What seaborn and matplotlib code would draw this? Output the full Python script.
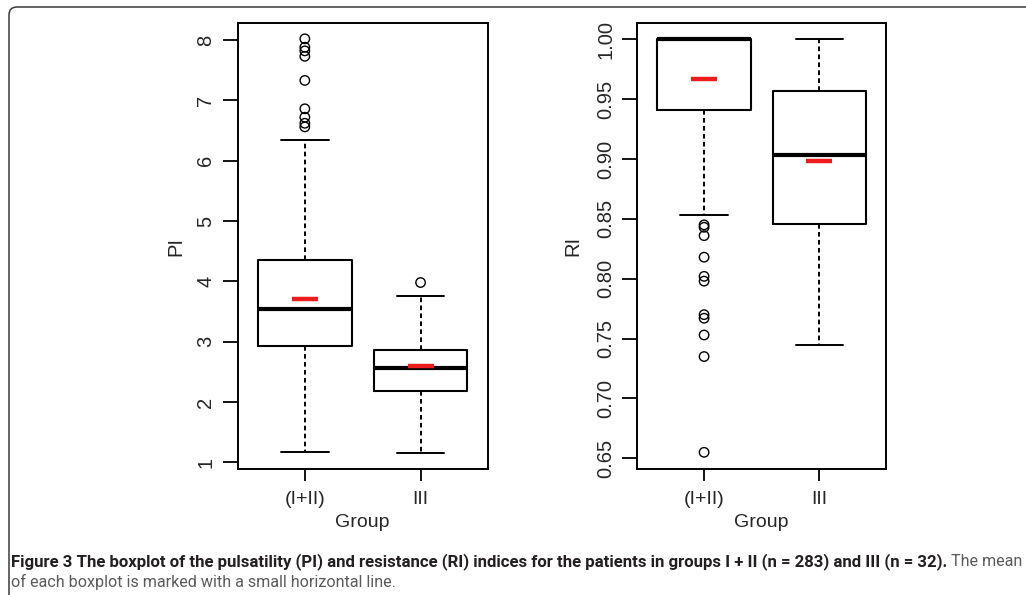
import matplotlib
matplotlib.use("Agg")
import matplotlib.pyplot as plt
from matplotlib.patches import FancyBboxPatch
from matplotlib import font_manager
import seaborn as sns
import pandas as pd

# ---- data -------------------------------------------------------------
groups = ["(I+II)", "III"]

# Pulsatility index (PI): five-number summaries, means and outliers
pi_whislo = [1.17, 1.16]
pi_q1 = [2.93, 2.18]
pi_med = [3.54, 2.57]
pi_q3 = [4.35, 2.86]
pi_whishi = [6.34, 3.76]
pi_mean = [3.70, 2.59]
pi_outliers = [[6.56, 6.62, 6.72, 6.86, 7.33, 7.73, 7.82, 7.88, 8.02], [3.98]]
pi_ticks = [1, 2, 3, 4, 5, 6, 7, 8]

# Resistance index (RI)
ri_whislo = [0.853, 0.745]
ri_q1 = [0.941, 0.846]
ri_med = [1.000, 0.903]
ri_q3 = [1.000, 0.957]
ri_whishi = [1.000, 1.000]
ri_mean = [0.967, 0.898]
ri_outliers = [[0.655, 0.735, 0.753, 0.767, 0.770, 0.798, 0.802, 0.818,
                0.836, 0.843, 0.845], []]
ri_ticks = [0.65, 0.70, 0.75, 0.80, 0.85, 0.90, 0.95, 1.00]

caption_bold = ("Figure 3 The boxplot of the pulsatility (PI) and resistance (RI) "
                "indices for the patients in groups I + II (n = 283) and III (n = 32).")
caption_rest1 = " The mean"
caption_line2 = "of each boxplot is marked with a small horizontal line."

# ---- style ------------------------------------------------------------
sns.set_theme(style="white")
plt.rcParams["font.family"] = ["Liberation Sans", "DejaVu Sans"]

available = {f.name for f in font_manager.fontManager.ttflist}
cap_family = "Liberation Sans Narrow" if "Liberation Sans Narrow" in available else "Roboto"

W, H = 1026, 595
fig = plt.figure(figsize=(W / 100, H / 100), dpi=100)


def panel(rect, whislo, q1, med, q3, whishi, means, outliers, ylabel, ylim,
          ticks, ticklabels, ylabelpad):
    ax = fig.add_axes(rect)
    stats = [dict(whislo=whislo[i], q1=q1[i], med=med[i], q3=q3[i],
                  whishi=whishi[i], fliers=[], label=groups[i])
             for i in range(len(groups))]
    ax.bxp(stats, positions=[0, 1], widths=0.81, capwidths=0.41,
           showfliers=False,
           boxprops=dict(color="black", lw=1.5),
           medianprops=dict(color="black", lw=3.0, solid_capstyle="butt"),
           whiskerprops=dict(color="black", lw=1.4, linestyle=(0, (2.4, 1.7))),
           capprops=dict(color="black", lw=1.4))

    # outlying observations as open circles
    out_df = pd.DataFrame({
        "group": [g for g, vals in zip(groups, outliers) for _ in vals],
        "value": [v for vals in outliers for v in vals],
    })
    n_before = len(ax.collections)
    sns.stripplot(data=out_df, x="group", y="value", order=groups, jitter=False,
                  marker="o", size=6.8, color="black", linewidth=1.0,
                  edgecolor="black", ax=ax, zorder=3)
    for coll in ax.collections[n_before:]:
        coll.set_facecolor("none")
        coll.set_edgecolor("black")
        coll.set_linewidth(1.0)

    # group means as short red bars
    sns.pointplot(x=groups, y=means, order=groups, color="#ee1c1c",
                  markers="_", linestyles="none", errorbar=None,
                  markersize=19, markeredgewidth=3.2, ax=ax, zorder=4)

    ax.set_xlim(-0.58, 1.58)
    ax.set_ylim(*ylim)
    ax.set_xticks([0, 1])
    ax.set_xticklabels(groups, fontsize=14)
    ax.set_yticks(ticks)
    ax.set_yticklabels(ticklabels, rotation=90, va="center", fontsize=14.5)
    ax.tick_params(axis="y", direction="out", length=10.5, width=1.3,
                   pad=5.5, color="black", left=True)
    ax.tick_params(axis="x", direction="out", length=8.4, width=1.3,
                   pad=7.5, color="black", bottom=True)
    for sp in ax.spines.values():
        sp.set_visible(True)
        sp.set_color("black")
        sp.set_linewidth(1.4)
    ax.set_xlabel("Group", fontsize=14, labelpad=4)
    ax.set_ylabel(ylabel, fontsize=14.5, labelpad=ylabelpad)
    ax.grid(False)
    return ax


panel([237.7 / W, 1 - 469.3 / H, 250 / W, 446.6 / H],
      pi_whislo, pi_q1, pi_med, pi_q3, pi_whishi, pi_mean, pi_outliers,
      "PI", (0.884, 8.287), pi_ticks, [str(t) for t in pi_ticks], 8)

panel([637.3 / W, 1 - 469.3 / H, 248.7 / W, 446.6 / H],
      ri_whislo, ri_q1, ri_med, ri_q3, ri_whishi, ri_mean, ri_outliers,
      "RI", (0.6408, 1.0139), ri_ticks, [f"{t:.2f}" for t in ri_ticks], 10)

# ---- caption ----------------------------------------------------------
renderer = fig.canvas.get_renderer()
cap_fonts = [cap_family, "DejaVu Sans"]


def fitted_text(x, y, s, width, weight, color, size0=11.0):
    t = fig.text(x / W, 1 - y / H, s, fontsize=size0, fontweight=weight,
                 family=cap_fonts, color=color, ha="left", va="baseline")
    w = t.get_window_extent(renderer).width
    t.set_fontsize(size0 * width / w)
    return t


bold = fitted_text(11, 566, caption_bold, 938, "bold", "#231f20")
line2 = fitted_text(11, 587, caption_line2, 382, "normal", "#5a5a5a")
rest = fig.text(0, 1 - 566 / H, caption_rest1, fontsize=line2.get_fontsize(),
                family=cap_fonts, color="#5a5a5a", ha="left", va="baseline")
rest.set_x(bold.get_window_extent(renderer).x1 / W)

# rounded frame open to the right and bottom
frame = FancyBboxPatch((9, -30), 1060, H - 7 + 30,
                       boxstyle="round,pad=0,rounding_size=8",
                       transform=None, fill=False, edgecolor="#3a3a3a",
                       linewidth=1.1)
fig.patches.append(frame)

fig.savefig("out.png", dpi=100)
